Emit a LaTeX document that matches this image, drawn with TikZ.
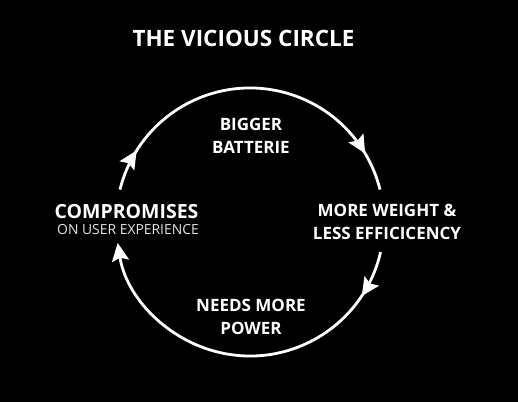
\documentclass[tikz,border=0pt]{standalone}
\usepackage{fontspec}
\setmainfont{Open Sans}
\usepackage{tikz}
\usetikzlibrary{arrows.meta, decorations.markings}
\definecolor{vcbg}{HTML}{000000}
\definecolor{vcink}{HTML}{FFFFFF}
\definecolor{vcsub}{HTML}{E4E4E4}

\begin{document}
\begin{tikzpicture}[x=1pt, y=1pt,
  title/.style={text=vcink, font=\fontsize{22.5}{27}\selectfont\bfseries, inner sep=0pt},
  lbl/.style={text=vcink, font=\fontsize{17}{23}\selectfont\bfseries, align=center, inner sep=0pt},
  biglbl/.style={text=vcink, font=\fontsize{19.5}{23}\selectfont\bfseries, inner sep=0pt},
  sublbl/.style={text=vcsub, font=\fontsize{13.9}{16}\selectfont, inner sep=0pt},
  ring/.style={draw=vcink, line width=2.8pt},
  tipend/.style={-{Stealth[length=18pt, width=17pt, inset=3pt]}},
  upperticks/.style={postaction={decorate}, decoration={markings,
    mark=at position 0.12 with {\arrow[vcink]{Stealth[length=18pt, width=17pt, inset=3pt]}},
    mark=at position 0.89 with {\arrow[vcink]{Stealth[length=18pt, width=17pt, inset=3pt]}}}},
  lowerticks/.style={postaction={decorate}, decoration={markings,
    mark=at position 0.13 with {\arrow[vcink]{Stealth[length=18pt, width=17pt, inset=3pt]}}}}
]
  \fill[vcbg] (0,0) rectangle (518,402);
  \useasboundingbox (0,0) rectangle (518,402);

  \node[title] (title) at (243.5, 364) {THE VICIOUS CIRCLE};

  \node[lbl] (batt) at (251, 266.5) {BIGGER\\BATTERIE};
  \node[biglbl] (comp) at (126.5, 190) {COMPROMISES};
  \node[sublbl] (compsub) at (128, 172) {ON USER EXPERIENCE};
  \node[lbl] (weight) at (387, 180.5) {MORE WEIGHT \&\\LESS EFFICICENCY};
  \node[lbl] (power) at (251, 85.5) {NEEDS MORE\\POWER};

  \coordinate (ctr) at (250, 180);
  \draw[ring, upperticks] ([shift={(166:134)}]ctr) arc[start angle=166, end angle=14, radius=134];
  \draw[ring, lowerticks, tipend] ([shift={(-13:134)}]ctr) arc[start angle=-13, end angle=-171, radius=134];
\end{tikzpicture}
\end{document}
